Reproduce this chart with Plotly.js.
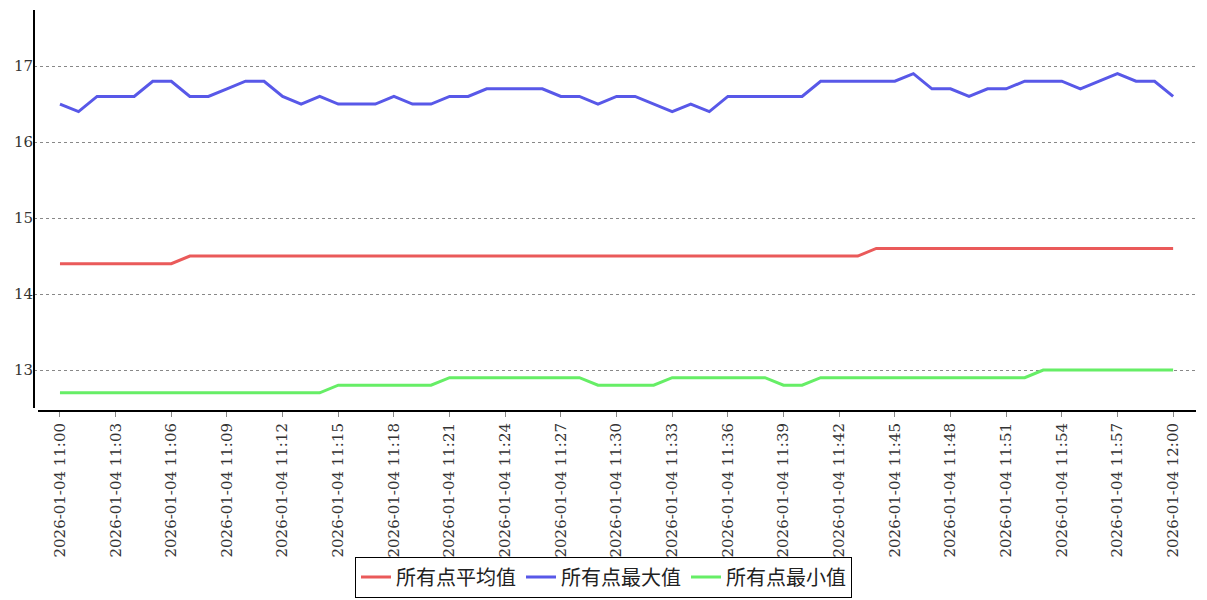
<!DOCTYPE html>
<html>
<head>
<meta charset="utf-8">
<script src="https://cdn.plot.ly/plotly-3.0.1.min.js"></script>
<style>html,body{margin:0;padding:0;background:#fff;}#chart{width:1207px;height:600px;}</style>
</head>
<body>
<div id="chart"></div>
<script>
// Times: one point per minute, 2026-01-04 11:00 .. 12:00
const times = [];
for (let m = 0; m <= 60; m++) {
  const h = 11 + Math.floor(m / 60), mm = m % 60;
  times.push('2026-01-04 ' + String(h).padStart(2, '0') + ':' + String(mm).padStart(2, '0'));
}
const seriesNames = ['所有点平均值', '所有点最大值', '所有点最小值'];
const avgValues = [
  14.4,14.4,14.4,14.4,14.4,14.4,14.4,
  14.5,14.5,14.5,14.5,14.5,14.5,14.5,14.5,14.5,14.5,
  14.5,14.5,14.5,14.5,14.5,14.5,14.5,14.5,14.5,14.5,
  14.5,14.5,14.5,14.5,14.5,14.5,14.5,14.5,14.5,14.5,
  14.5,14.5,14.5,14.5,14.5,14.5,14.5,
  14.6,14.6,14.6,14.6,14.6,14.6,14.6,14.6,14.6,14.6,
  14.6,14.6,14.6,14.6,14.6,14.6,14.6
];
const maxValues = [
  16.5,16.4,16.6,16.6,16.6,16.8,16.8,16.6,16.6,16.7,
  16.8,16.8,16.6,16.5,16.6,16.5,16.5,16.5,16.6,16.5,
  16.5,16.6,16.6,16.7,16.7,16.7,16.7,16.6,16.6,16.5,
  16.6,16.6,16.5,16.4,16.5,16.4,16.6,16.6,16.6,16.6,
  16.6,16.8,16.8,16.8,16.8,16.8,16.9,16.7,16.7,16.6,
  16.7,16.7,16.8,16.8,16.8,16.7,16.8,16.9,16.8,16.8,
  16.6
];
const minValues = [
  12.7,12.7,12.7,12.7,12.7,12.7,12.7,12.7,12.7,12.7,12.7,12.7,12.7,12.7,12.7,
  12.8,12.8,12.8,12.8,12.8,12.8,
  12.9,12.9,12.9,12.9,12.9,12.9,12.9,12.9,
  12.8,12.8,12.8,12.8,
  12.9,12.9,12.9,12.9,12.9,12.9,
  12.8,12.8,
  12.9,12.9,12.9,12.9,12.9,12.9,12.9,12.9,12.9,12.9,12.9,12.9,
  13.0,13.0,13.0,13.0,13.0,13.0,13.0,13.0
];
const tickVals = times.filter((t, i) => i % 3 === 0);
const tickText = tickVals.slice();
const colors = ['#ea5a5a', '#5858e8', '#66ee66'];

const traces = [avgValues, maxValues, minValues].map((vals, k) => ({
  x: times, y: vals, name: seriesNames[k], type: 'scatter', mode: 'lines',
  line: {color: colors[k], width: 3}
}));

const layout = {
  width: 1207, height: 600,
  margin: {l: 34, r: 11, t: 10, b: 189},
  paper_bgcolor: '#fff', plot_bgcolor: '#fff',
  showlegend: true,
  legend: {
    orientation: 'h', x: 0.5, xref: 'container', xanchor: 'center',
    y: 0.004, yref: 'container', yanchor: 'bottom',
    bordercolor: '#000', borderwidth: 1, bgcolor: '#fff',
    font: {family: '"Noto Sans CJK SC", sans-serif', size: 20, color: '#222'},
    itemwidth: 30, tracegroupgap: 0
  },
  xaxis: {
    type: 'date', automargin: false,
    range: ['2026-01-04 10:58:36', '2026-01-04 12:01:14'],
    tickmode: 'array', tickvals: tickVals, ticktext: tickText,
    tickangle: -90, ticks: 'outside', ticklen: 5, tickcolor: '#888', tickwidth: 1,
    showgrid: false, showline: false, zeroline: false,
    tickfont: {family: '"DejaVu Serif", serif', size: 15, color: '#333'}
  },
  yaxis: {
    automargin: false,
    range: [12.461, 17.737],
    tickvals: [13, 14, 15, 16, 17], ticks: '',
    showgrid: true, gridcolor: '#888', griddash: 'dot', gridwidth: 1,
    showline: false, zeroline: false,
    tickfont: {family: '"DejaVu Serif", serif', size: 15, color: '#333'}
  },
  shapes: [
    {type: 'line', xref: 'paper', yref: 'paper', x0: 0, x1: 0, y0: 3/401, y1: 1, line: {color: '#000', width: 2}},
    {type: 'line', xref: 'paper', yref: 'paper', x0: 4/1162, x1: 1, y0: 0, y1: 0, line: {color: '#000', width: 2}}
  ]
};
Plotly.newPlot('chart', traces, layout, {displayModeBar: false, staticPlot: true});
</script>
</body>
</html>
